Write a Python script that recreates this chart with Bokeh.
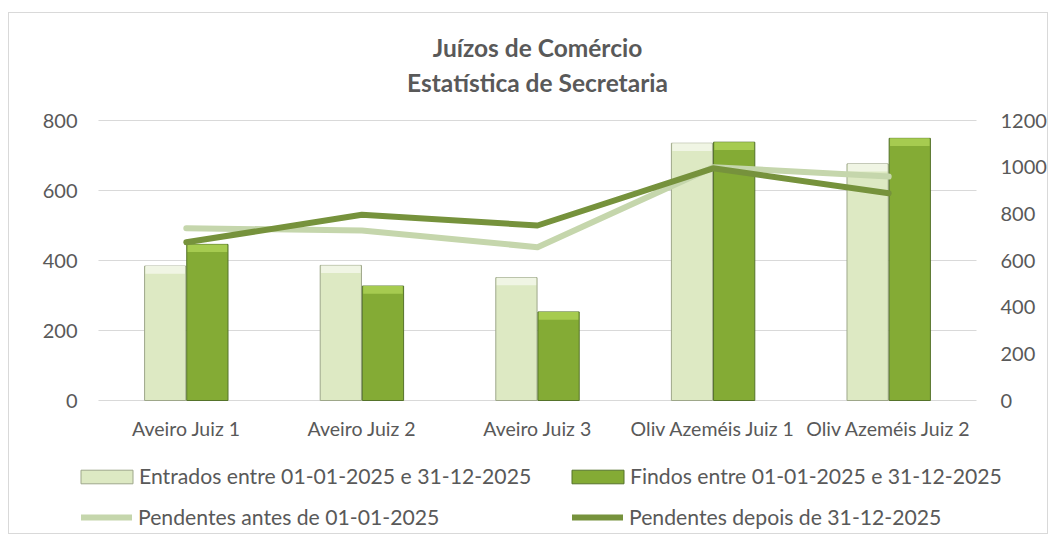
from bokeh.plotting import figure
from bokeh.models import (FactorRange, Range1d, LinearAxis, Legend, LegendItem, Label,
                          FixedTicker, ColumnDataSource)
from bokeh.transform import dodge
from bokeh.core.properties import value
from bokeh.embed import file_html
from bokeh.resources import INLINE

# ---------------- data ----------------
categories = ["Aveiro Juiz 1", "Aveiro Juiz 2", "Aveiro Juiz 3",
              "Oliv Azeméis Juiz 1", "Oliv Azeméis Juiz 2"]
entrados = [384, 386, 351, 735, 676]
findos = [446, 327, 253, 738, 749]
pendentes_antes = [738, 729, 657, 1000, 960]
pendentes_depois = [678, 796, 750, 995, 888]
left_ticks = [0, 200, 400, 600, 800]
right_ticks = [0, 200, 400, 600, 800, 1000, 1200]
title_lines = ["Juízos de Comércio", "Estatística de Secretaria"]
series_names = ["Entrados entre 01-01-2025 e 31-12-2025",
                "Findos entre 01-01-2025 e 31-12-2025",
                "Pendentes antes de 01-01-2025",
                "Pendentes depois de 31-12-2025"]

# ---------------- style / layout ----------------
FONT = "Lato"
TXT = "#595959"
GRID = "#D9D9D9"
BAR_W = 0.235
OFF = 0.12
BEVEL = 22            # data units of the lighter top band (~8px)
PX_PER_UNIT = 0.35    # left axis: 800 units over 280 px
FRAME_H = 522
ZERO_FROM_BOTTOM = 135
Y_START = -ZERO_FROM_BOTTOM / PX_PER_UNIT
Y_END = (FRAME_H - ZERO_FROM_BOTTOM) / PX_PER_UNIT
RIGHT_FACTOR = 1200 / 800
X_PAD = 0.063776      # frame extends ~28px beyond the category area on each side

src = ColumnDataSource(dict(
    cat=categories,
    entrados=entrados,
    findos=findos,
    antes=pendentes_antes,
    depois=pendentes_depois,
    ent_bev=[v - BEVEL for v in entrados],
    fin_bev=[v - BEVEL for v in findos],
))
grid_src = ColumnDataSource(dict(
    y=left_ticks,
    x0=[categories[0]] * len(left_ticks),
    x1=[categories[-1]] * len(left_ticks),
))

p = figure(x_range=FactorRange(*categories, range_padding=X_PAD),
           y_range=Range1d(Y_START, Y_END),
           width=1040, height=FRAME_H, output_backend="svg", toolbar_location=None,
           x_axis_location=None, title_location=None,
           min_border_left=61, min_border_right=45, min_border_top=0,
           min_border_bottom=0, background_fill_color="white",
           border_fill_color="white")
p.margin = (12, 0, 0, 8)
p.styles = {"border": "1px solid #D9D9D9"}
p.extra_y_ranges = {"right": Range1d(Y_START * RIGHT_FACTOR, Y_END * RIGHT_FACTOR)}
p.outline_line_color = None
p.grid.visible = False

# gridlines (only across the category area)
p.segment(x0=dodge("x0", -0.5, range=p.x_range), x1=dodge("x1", 0.5, range=p.x_range),
          y0="y", y1="y", source=grid_src, line_color=GRID, line_width=1)

# bars
r_ent = p.vbar(x=dodge("cat", -OFF, range=p.x_range), top="entrados", width=BAR_W,
               source=src, fill_color="#DDE9C3", line_color="#9EA78A", line_width=1)
p.vbar(x=dodge("cat", -OFF, range=p.x_range), top="entrados", bottom="ent_bev",
       width=BAR_W - 0.01, source=src, fill_color="#F0F5E4", line_color=None)
r_fin = p.vbar(x=dodge("cat", OFF, range=p.x_range), top="findos", width=BAR_W,
               source=src, fill_color="#84AB35", line_color="#55732A", line_width=1)
p.vbar(x=dodge("cat", OFF, range=p.x_range), top="findos", bottom="fin_bev",
       width=BAR_W - 0.01, source=src, fill_color="#A6CB50", line_color=None)

# lines (right axis)
r_antes = p.line(x="cat", y="antes", source=src, y_range_name="right",
                 line_color="#C5D6AC", line_width=6, line_cap="round", line_join="round")
r_dep = p.line(x="cat", y="depois", source=src, y_range_name="right",
               line_color="#76923C", line_width=6, line_cap="round", line_join="round")

# category labels (x axis)
p.text(x="cat", y=0, text="cat", source=src, text_align="center",
       text_baseline="alphabetic", y_offset=28, text_font=value(FONT),
       text_font_size="19.5px", text_color=TXT)

# y axes
p.yaxis[0].ticker = FixedTicker(ticks=left_ticks)
right_ax = LinearAxis(y_range_name="right", ticker=FixedTicker(ticks=right_ticks))
p.add_layout(right_ax, "right")
for ax in p.yaxis:
    ax.axis_line_color = None
    ax.major_tick_line_color = None
    ax.minor_tick_line_color = None
    ax.major_tick_out = 0
    ax.major_tick_in = 0
    ax.minor_tick_out = 0
    ax.major_label_text_font = FONT
    ax.major_label_text_font_size = "20px"
    ax.major_label_text_color = TXT
p.yaxis[0].major_label_standoff = -7
right_ax.major_label_standoff = -4

# title
for txt, y in zip(title_lines, [488, 453]):
    p.add_layout(Label(x=467, y=y, x_units="screen", y_units="screen", text=txt,
                       text_align="center", text_baseline="alphabetic",
                       text_font=FONT, text_font_style="bold",
                       text_font_size="24.5px", text_color=TXT))

# legends: one per entry, so box and line glyphs can get their own sizes
common = dict(label_text_font=FONT, label_text_font_size="21.2px",
              label_text_color=TXT, spacing=0, label_height=26, padding=0, margin=0,
              border_line_color=None, background_fill_alpha=0)
box_style = dict(glyph_width=65, glyph_height=17, label_standoff=0, **common)
line_style = dict(glyph_width=51, glyph_height=14, label_standoff=6, **common)

legends = [
    Legend(items=[LegendItem(label=series_names[0], renderers=[r_ent])],
           location=(4, 46), **box_style),
    Legend(items=[LegendItem(label=series_names[1], renderers=[r_fin])],
           location=(495, 46), **box_style),
    Legend(items=[LegendItem(label=series_names[2], renderers=[r_antes])],
           location=(11, 5), **line_style),
    Legend(items=[LegendItem(label=series_names[3], renderers=[r_dep])],
           location=(502, 5), **line_style),
]
for lg in legends:
    p.add_layout(lg)

open("out.html", "w").write(file_html(p, INLINE))
